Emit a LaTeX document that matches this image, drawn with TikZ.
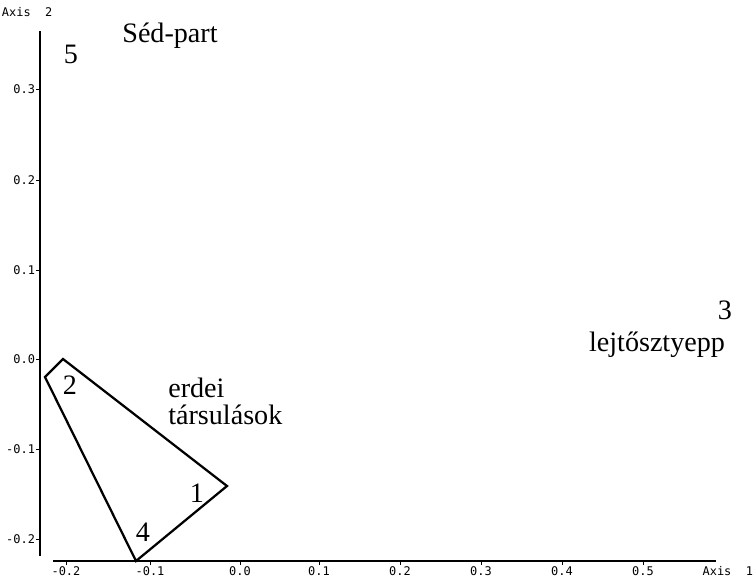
\documentclass[tikz,border=0pt]{standalone}
\usepackage{fontspec}
\setmainfont{Liberation Serif}
\newfontfamily\tickfont{DejaVu Sans Mono}

\begin{document}
\begin{tikzpicture}[x=0.025cm,y=-0.025cm]
\tikzset{ticklab/.style={font=\tickfont\fontsize{8.5}{10}\selectfont,inner sep=0.5pt},
lab/.style={font=\fontsize{20}{22}\selectfont,inner sep=0pt}}

\useasboundingbox (0,0) rectangle (755,579);

% axes
\coordinate (ytop) at (40,31);
\coordinate (ybot) at (40,556);
\coordinate (xl) at (53,561);
\coordinate (xr) at (716,561);
\draw[line width=0.8pt] (ytop)--(ybot);
\draw[line width=0.8pt] (xl)--(xr);

\foreach \y/\l in {89/0.3,180/0.2,270/0.1,359/0.0,449/-0.1,539/-0.2}
{
\draw (36,\y)--(40,\y);
\node[ticklab,anchor=east] at (36,\y) {\l};
}
\foreach \x/\l in {66/-0.2,150/-0.1,240/0.0,319/0.1,400/0.2,481/0.3,562/0.4,643/0.5}
{
\draw (\x,561)--(\x,565);
\node[ticklab] at (\x,571) {\l};
}
\node[ticklab,anchor=east] (ax1) at (754,571) {Axis\ \ 1};
\node[ticklab,anchor=west] (ax2) at (1,12) {Axis\ \ 2};

% hull of the forest sites
\coordinate (c1) at (45,377);
\coordinate (c2) at (63,359);
\coordinate (c3) at (227,486);
\coordinate (c4) at (136,561);
\draw[line width=1.6pt,line join=miter] (c1)--(c2)--(c3)--(c4)--cycle;

% sites and groups
\node[lab] (n5) at (71,54) {5};
\node[lab] (sed) at (170,36) {Séd-part};
\node[lab] (n3) at (725,310) {3};
\node[lab] (lejto) at (657,345) {lejtősztyepp};
\node[lab] (n2) at (70,385) {2};
\node[lab,anchor=west] (erdei) at (168,388) {erdei};
\node[lab,anchor=west] (tars) at (168,415) {társulások};
\node[lab] (n1) at (197,493) {1};
\node[lab] (n4) at (143,532) {4};
\end{tikzpicture}
\end{document}
